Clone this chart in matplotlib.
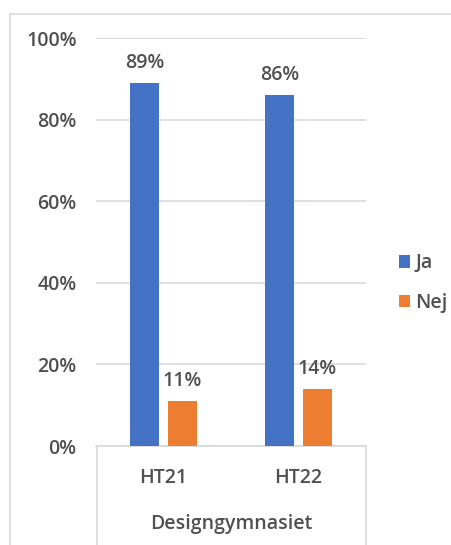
import matplotlib.pyplot as plt
import numpy as np
from matplotlib.lines import Line2D
from matplotlib.patches import Rectangle

categories = ["HT21", "HT22"]
group_label = "Designgymnasiet"
series_names = ["Ja", "Nej"]
ja_values = [89, 86]
nej_values = [11, 14]
yticks = [0, 20, 40, 60, 80, 100]

BLUE = "#4472C4"
ORANGE = "#ED7D31"
GRID = "#D9D9D9"
TEXT = "#505050"
FS = 14

plt.rcParams["font.family"] = ["Open Sans", "DejaVu Sans"]
plt.rcParams["font.weight"] = "semibold"

W, H = 451, 545
fig = plt.figure(figsize=(W / 100, H / 100), dpi=100)
ax = fig.add_axes([96 / W, 1 - 446 / H, 270 / W, 408 / H])

x = np.arange(len(categories))
width = 0.215
offset = 0.14
for vals, color, name, sign in [(ja_values, BLUE, series_names[0], -1),
                                (nej_values, ORANGE, series_names[1], 1)]:
    bars = ax.bar(x + sign * offset, vals, width, color=color, label=name, zorder=3)
    for b, v in zip(bars, vals):
        ax.annotate(f"{v}%", (b.get_x() + b.get_width() / 2, v),
                    xytext=(0, 7), textcoords="offset points",
                    ha="center", va="bottom", fontsize=FS, color=TEXT)

ax.set_xlim(-0.5, 1.5)
ax.set_ylim(0, 100)
ax.set_yticks(yticks)
ax.set_yticklabels([f"{t}%" for t in yticks], fontsize=FS, color=TEXT)
ax.yaxis.grid(True, color=GRID, linewidth=1.2, zorder=0)
ax.tick_params(axis="y", length=0, pad=14)
ax.set_xticks([])
for s in ["top", "right", "left"]:
    ax.spines[s].set_visible(False)
ax.spines["bottom"].set_color(GRID)
ax.spines["bottom"].set_linewidth(1.2)

# category labels and group box below the axis
for xi, cat in zip(x, categories):
    ax.text(xi, -(478 - 446) / 408, cat, transform=ax.get_xaxis_transform(),
            ha="center", va="center", fontsize=FS, color=TEXT)
ax.text(0.5, -(524 - 446) / 408, group_label, transform=ax.transAxes,
        ha="center", va="center", fontsize=FS, color=TEXT)
for fx in [96.5 / W, 366 / W]:
    fig.add_artist(Line2D([fx, fx], [0, 1 - 446 / H], color=GRID, linewidth=1.2))

# outer chart border
fig.add_artist(Rectangle((10 / W, -0.1), 1.2, 1 - 14 / H + 0.1, fill=False,
                         edgecolor=GRID, linewidth=1.2))

fig.legend(loc="center left", bbox_to_anchor=(381 / W, 1 - 283 / H), frameon=False,
           fontsize=FS, labelcolor=TEXT, handlelength=0.6, handleheight=0.6,
           handletextpad=0.25, labelspacing=1.0)

fig.savefig("out.png", dpi=100)
